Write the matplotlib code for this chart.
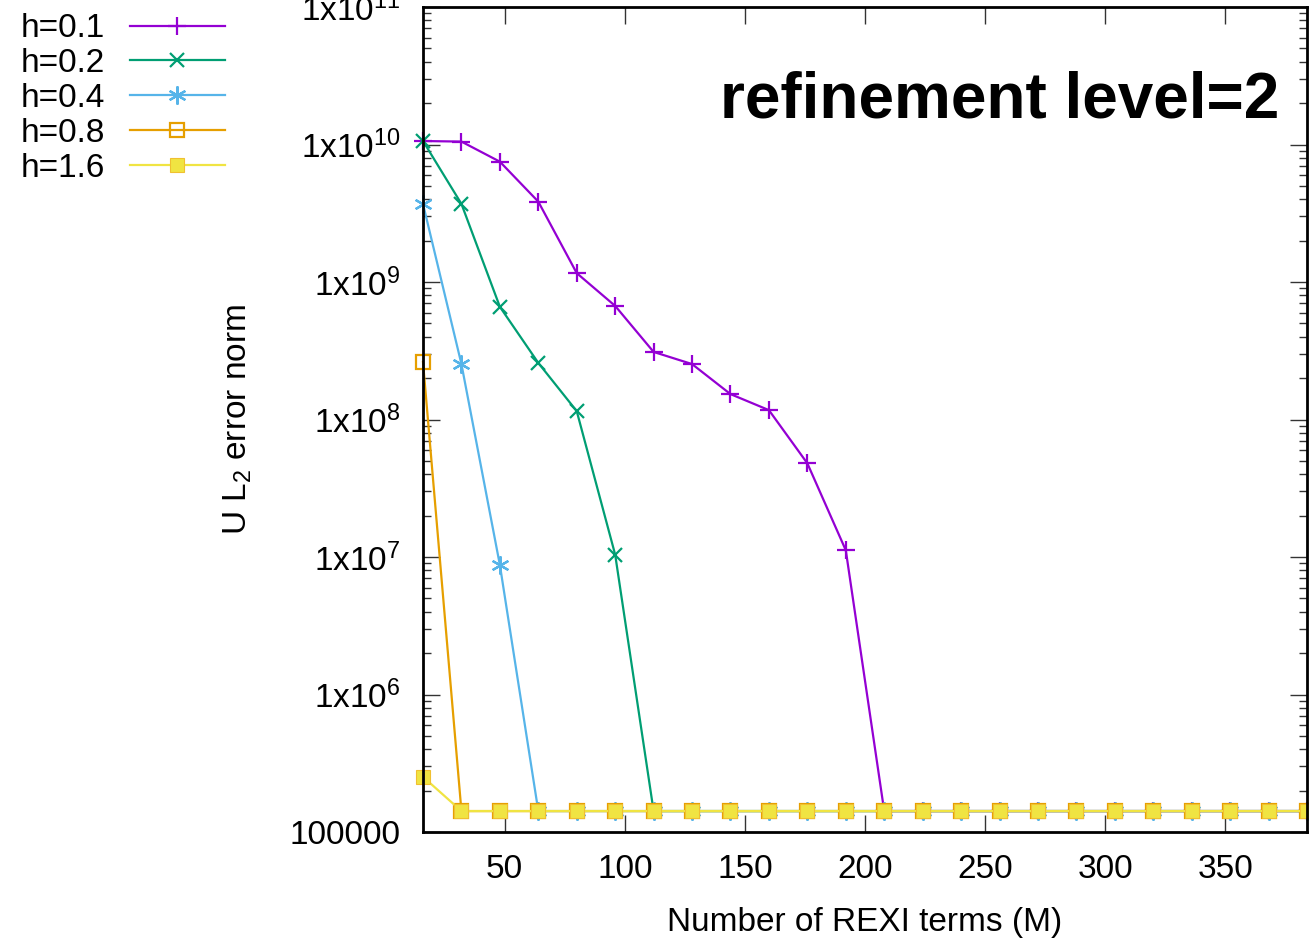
import numpy as np
import matplotlib
matplotlib.use("Agg")
import matplotlib.pyplot as plt
from matplotlib.ticker import FixedLocator, LogLocator, NullFormatter

plt.rcParams['font.family'] = ['Liberation Sans', 'DejaVu Sans']
plt.rcParams['mathtext.fontset'] = 'custom'
plt.rcParams['mathtext.rm'] = 'Liberation Sans'
plt.rcParams['mathtext.default'] = 'regular'

# -- data --
M = [16, 32, 48, 64, 80, 96, 112, 128, 144, 160, 176, 192,
     208, 224, 240, 256, 272, 288, 304, 320, 336, 352, 368, 384]

err_h01 = [1.06e10, 1.05e10, 7.5e9, 3.84e9, 1.16e9, 6.7e8, 3.1e8, 2.53e8,
           1.53e8, 1.17e8, 4.8e7, 1.12e7] + [1.42e5] * 12
err_h02 = [1.06e10, 3.7e9, 6.6e8, 2.58e8, 1.15e8, 1.04e7] + [1.42e5] * 18
err_h04 = [3.7e9, 2.53e8, 8.75e6] + [1.42e5] * 21
err_h08 = [2.62e8] + [1.42e5] * 23
err_h16 = [2.52e5] + [1.42e5] * 23

labels = ['h=0.1', 'h=0.2', 'h=0.4', 'h=0.8', 'h=1.6']
ytick_vals = [1e5, 1e6, 1e7, 1e8, 1e9, 1e10, 1e11]
ytick_labels = ['100000', '1x10$^{6}$', '1x10$^{7}$', '1x10$^{8}$',
                '1x10$^{9}$', '1x10$^{10}$', '1x10$^{11}$']
xtick_vals = [50, 100, 150, 200, 250, 300, 350]

fig = plt.figure(figsize=(13.09, 9.39), dpi=100)
ax = fig.add_axes([423/1309, 1 - 832/939, 884/1309, 825/939])

styles = [
    dict(color='#9400d3', marker='+', ms=13, mew=1.6, mfc='none'),
    dict(color='#009e73', marker='x', ms=10, mew=1.6, mfc='none'),
    dict(color='#56b4e9', marker=(6, 2, 0), ms=13, mew=1.6),
    dict(color='#e69f00', marker='s', ms=10, mew=1.6, mfc='none'),
    dict(color='#f0e442', marker='s', ms=10.5, mew=0.8, mec='#f0c030'),
]
series = [err_h01, err_h02, err_h04, err_h08, err_h16]

for vals, lab, st in zip(series, labels, styles):
    ax.plot(M, vals, lw=1.6, label=lab, clip_on=False, **st)

ax.set_yscale('log')
ax.set_xlim(16, 384)
ax.set_ylim(1e5, 1e11)

ax.yaxis.set_major_locator(FixedLocator(ytick_vals))
ax.set_yticklabels(ytick_labels)
ax.yaxis.set_minor_locator(LogLocator(base=10, subs=np.arange(2, 10)))
ax.yaxis.set_minor_formatter(NullFormatter())
ax.set_xticks(xtick_vals)

ax.tick_params(which='both', direction='in', top=True, right=True,
               labelsize=24, color='#333333')
ax.tick_params(which='major', length=12, width=1, pad=16)
ax.tick_params(which='minor', length=6, width=1)
for sp in ax.spines.values():
    sp.set_linewidth(2)

ax.set_xlabel('Number of REXI terms (M)', fontsize=24, labelpad=16)
ax.set_ylabel('U L$_2$ error norm', fontsize=24, labelpad=26)

ax.text(0.969, 0.887, 'refinement level=2', transform=ax.transAxes,
        ha='right', va='center', fontsize=46, fontweight='bold')

fig.legend(loc='upper left', bbox_to_anchor=(7/1309, 1 - 0/939),
           markerfirst=False, frameon=False, fontsize=24,
           handlelength=2.85, handletextpad=0.75, labelspacing=0.115,
           borderaxespad=0)

fig.savefig('out.png', dpi=100)
